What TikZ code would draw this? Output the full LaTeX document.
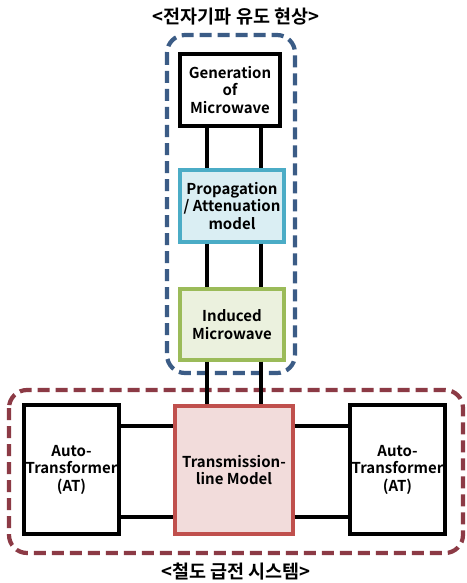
\documentclass[tikz,border=0pt]{standalone}
\usepackage{fontspec}
\setmainfont{Noto Sans CJK KR}[BoldFont={* Bold}]
\definecolor{bluedash}{HTML}{3B5C86}
\definecolor{reddash}{HTML}{8C3A45}
\definecolor{propfill}{HTML}{DAEEF3}
\definecolor{propline}{HTML}{4BACC6}
\definecolor{indfill}{HTML}{EBF1DE}
\definecolor{indline}{HTML}{9BBB59}
\definecolor{tlfill}{HTML}{F2DCDB}
\definecolor{tlline}{HTML}{C0504D}
\begin{document}
\begin{tikzpicture}[x=1pt,y=-1pt,
  box/.style={draw=black, line width=3.2pt, fill=white, align=center, inner sep=0pt,
    font=\bfseries\fontsize{15}{17.5}\selectfont},
  wire/.style={line width=3.2pt, black},
  grp/.style={line width=4.2pt, dash pattern=on 12pt off 6pt, rounded corners=18pt},
  ttl/.style={font=\bfseries\fontsize{18.5}{21}\selectfont}]
\useasboundingbox (0,0) rectangle (466,583);
\fill[white] (0,0) rectangle (466,583);
% groups
\draw[grp, draw=bluedash] (167,35) rectangle (295,373);
\draw[grp, draw=reddash] (9,390) rectangle (463,553);
% coordinates for wire positions
\coordinate (xa) at (207,0);
\coordinate (xb) at (261,0);
\coordinate (ya) at (0,426);
\coordinate (yb) at (0,517);
% nodes
\node[box, minimum width=100pt, minimum height=72pt] (gen) at (230,90) {Generation\\of\\Microwave};
\node[box, draw=propline, fill=propfill, minimum width=104pt, minimum height=72pt] (prop) at (232,206) {Propagation\\/ Attenuation\\model};
\node[box, draw=indline, fill=indfill, minimum width=104pt, minimum height=71pt] (ind) at (232,324.5) {Induced\\Microwave};
\node[box, draw=tlline, fill=tlfill, minimum width=118pt, minimum height=128pt] (tl) at (234,470) {Transmission-\\line Model};
\node[box, minimum width=95pt, minimum height=129pt] (atl) at (71.5,469.5) {Auto-\\Transformer\\(AT)};
\node[box, minimum width=95pt, minimum height=129pt] (atr) at (397.5,469.5) {Auto-\\Transformer\\(AT)};
% wires
\draw[wire] (gen.south -| xa) -- (prop.north -| xa);
\draw[wire] (gen.south -| xb) -- (prop.north -| xb);
\draw[wire] (prop.south -| xa) -- (ind.north -| xa);
\draw[wire] (prop.south -| xb) -- (ind.north -| xb);
\draw[wire] (ind.south -| xa) -- (tl.north -| xa);
\draw[wire] (ind.south -| xb) -- (tl.north -| xb);
\draw[wire] (atl.east |- ya) -- (tl.west |- ya);
\draw[wire] (atl.east |- yb) -- (tl.west |- yb);
\draw[wire] (tl.east |- ya) -- (atr.west |- ya);
\draw[wire] (tl.east |- yb) -- (atr.west |- yb);
% titles
\node[ttl] (top) at (236,17) {<전자기파 유도 현상>};
\node[ttl] (bot) at (236,572) {<철도 급전 시스템>};
\end{tikzpicture}
\end{document}
